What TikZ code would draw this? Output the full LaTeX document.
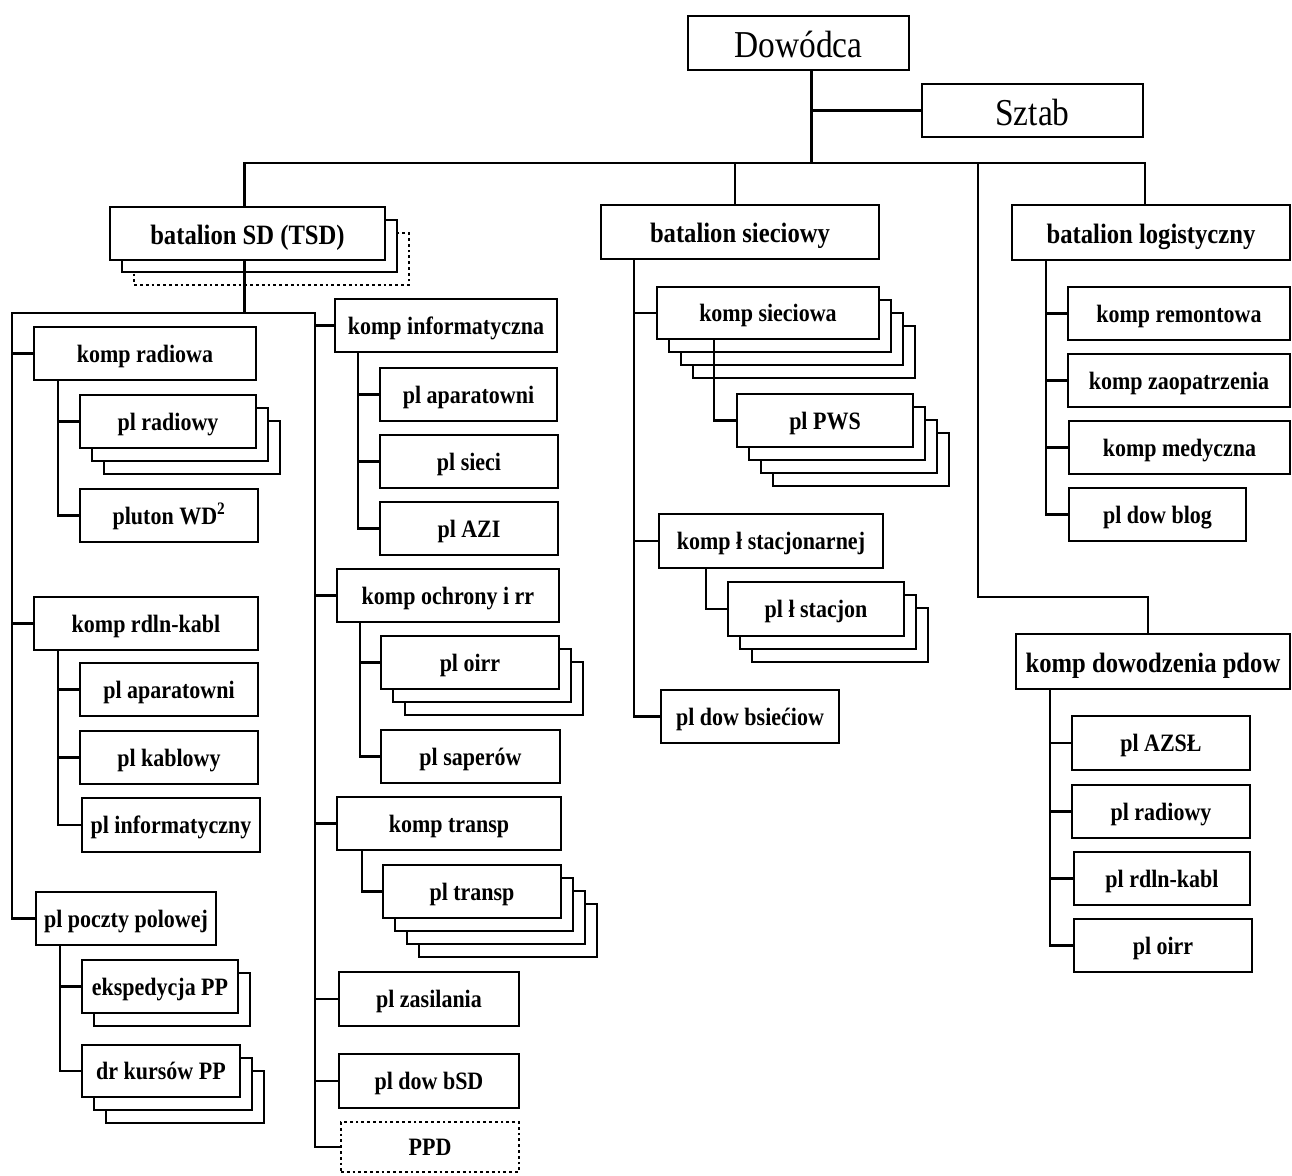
\documentclass[tikz,border=0pt]{standalone}
\usepackage{fontspec}
\setmainfont{Liberation Serif}[FakeStretch=0.88]
\newcommand\lblfont{\bfseries\fontsize{25}{28}\selectfont}
\newcommand\biglblfont{\bfseries\fontsize{28}{31}\selectfont}
\newcommand\toplblfont{\fontsize{38}{42}\selectfont}
\tikzset{
  box/.style={draw, line width=2.8pt, fill=white, inner sep=0pt, outer sep=0pt,
    font=\lblfont, text height=19pt, text depth=2pt, align=center},
  bigbox/.style={font=\biglblfont, text height=21pt, text depth=0pt},
  topbox/.style={font=\toplblfont, text height=29pt, text depth=0pt},
  dotbox/.style={dash pattern=on 2.8pt off 3pt},
  shbox/.style={draw, line width=2.8pt, fill=white},
  ln/.style={draw, line width=2.6pt, line cap=rect},
}
% box: [style] name x1 y1 x2 y2 text
\newcommand\ob[7][]{\node[box,#1,anchor=north west,minimum width={#5-#3},minimum height={#6-#4}] (#2) at (#3,#4) {#7};}
% shadows: x1 y1 x2 y2 count
\newcommand\shd[5]{\foreach \k in {#5,...,1}{\draw[shbox] ({#1+12*\k},{#2+13*\k}) rectangle ({#3+12*\k},{#4+13*\k});}}
\begin{document}
\begin{tikzpicture}[x=1pt,y=-1pt]
\useasboundingbox[fill=white] (0,0) rectangle (1292,1175);
% top
\ob[topbox]{dow}{688}{16}{909}{70}{Dowódca}
\ob[topbox]{szt}{922}{84}{1143}{137}{Sztab}
% battalions
\draw[shbox,dotbox] (134,233) rectangle (409,285);
\draw[shbox] (122,220) rectangle (397,272);
\ob[bigbox]{bsd}{110}{207}{385}{260}{batalion SD (TSD)}
\ob[bigbox]{bsc}{601}{205}{879}{259}{batalion sieciowy}
\ob[bigbox]{blg}{1012}{205}{1290}{260}{batalion logistyczny}
% left column
\ob{kr}{34}{327}{256}{380}{komp radiowa}
\shd{80}{395}{256}{448}{2}
\ob{plr}{80}{395}{256}{448}{pl radiowy}
\ob{wd}{80}{489}{258}{542}{pluton WD\textsuperscript{2}}
\ob{krk}{34}{597}{258}{650}{komp rdln-kabl}
\ob{pap1}{80}{663}{258}{716}{pl aparatowni}
\ob{pkab}{80}{731}{258}{784}{pl kablowy}
\ob{pinf}{82}{798}{260}{852}{pl informatyczny}
\ob{ppp}{36}{892}{216}{945}{pl poczty polowej}
\shd{82}{960}{238}{1013}{1}
\ob{eks}{82}{960}{238}{1013}{ekspedycja PP}
\shd{82}{1045}{240}{1097}{2}
\ob{drk}{82}{1045}{240}{1097}{dr kursów PP}
% middle column
\ob{kinf}{335}{299}{557}{352}{komp informatyczna}
\ob{pap2}{380}{368}{557}{421}{pl aparatowni}
\ob{psie}{380}{435}{558}{488}{pl sieci}
\ob{pazi}{380}{502}{558}{555}{pl AZI}
\ob{koch}{337}{569}{559}{622}{komp ochrony i rr}
\shd{381}{636}{559}{689}{2}
\ob{poirr}{381}{636}{559}{689}{pl oirr}
\ob{psap}{381}{730}{560}{783}{pl saperów}
\ob{ktr}{337}{797}{561}{850}{komp transp}
\shd{383}{865}{561}{918}{3}
\ob{ptr}{383}{865}{561}{918}{pl transp}
\ob{pzas}{339}{972}{519}{1026}{pl zasilania}
\ob{pdbsd}{339}{1054}{519}{1108}{pl dow bSD}
\ob[dotbox]{ppd}{341}{1122}{519}{1172}{PPD}
% network battalion
\shd{657}{287}{879}{339}{3}
\ob{ksie}{657}{287}{879}{339}{komp sieciowa}
\shd{737}{394}{913}{447}{3}
\ob{pws}{737}{394}{913}{447}{pl PWS}
\ob{kls}{659}{514}{883}{568}{komp ł stacjonarnej}
\shd{728}{582}{904}{636}{2}
\ob{pls}{728}{582}{904}{636}{pl ł stacjon}
\ob{pdbs}{661}{690}{839}{743}{pl dow bsiećiow}
% logistics battalion
\ob{krem}{1068}{287}{1290}{340}{komp remontowa}
\ob{kzao}{1068}{354}{1290}{407}{komp zaopatrzenia}
\ob{kmed}{1069}{421}{1290}{474}{komp medyczna}
\ob{pdbl}{1069}{488}{1246}{541}{pl dow blog}
\ob[bigbox]{kdp}{1016}{634}{1290}{689}{komp dowodzenia pdow}
\ob{pazs}{1072}{716}{1250}{770}{pl AZSŁ}
\ob{prad}{1072}{785}{1250}{838}{pl radiowy}
\ob{prk}{1074}{852}{1250}{905}{pl rdln-kabl}
\ob{poi}{1074}{919}{1252}{972}{pl oirr}
% connectors
\coordinate (busY) at (0,163);
\coordinate (dowOut) at ([xshift=13pt]dow.south);
\coordinate (bsdIn) at ([xshift=-3pt]bsd.north);
\coordinate (bsdOut) at ([xshift=-3pt]bsd.south);
\coordinate (bscIn) at ([xshift=-5pt]bsc.north);
\coordinate (blgIn) at ([xshift=-6pt]blg.north);
\coordinate (kdpIn) at ([xshift=-5pt]kdp.north);
\draw[ln] (dowOut) -- (dowOut |- busY);
\draw[ln] (dowOut |- szt.west) -- (szt.west);
\draw[ln] (bsdIn |- busY) -- (blgIn |- busY);
\foreach \n in {bsdIn,bscIn,blgIn} \draw[ln] (\n |- busY) -- (\n);
\coordinate (kdTop) at (978,163);
\coordinate (kdTurn) at (978,597);
\draw[ln] (kdTop) -- (kdTurn) -| (kdpIn);
\coordinate (bL) at (12,313);
\coordinate (bR) at (315,313);
\draw[ln] (bsdOut) -- (bsdOut |- bL);
\draw[ln] (bL) -- (bR);
\foreach \n in {kr,krk,ppp} \draw[ln] (bL) |- (\n.west);
\foreach \n in {kinf,koch,ktr,pzas,pdbsd,ppd} \draw[ln] (bR) |- (\n.west);
\foreach \n in {plr,wd} \draw[ln] ([xshift=24pt]kr.south west) |- (\n.west);
\foreach \n in {pap1,pkab,pinf} \draw[ln] ([xshift=24pt]krk.south west) |- (\n.west);
\foreach \n in {eks,drk} \draw[ln] ([xshift=24pt]ppp.south west) |- (\n.west);
\foreach \n in {pap2,psie,pazi} \draw[ln] ([xshift=23pt]kinf.south west) |- (\n.west);
\foreach \n in {poirr,psap} \draw[ln] ([xshift=23pt]koch.south west) |- (\n.west);
\draw[ln] ([xshift=25pt]ktr.south west) |- (ptr.west);
\foreach \n in {ksie,kls,pdbs} \draw[ln] ([xshift=33pt]bsc.south west) |- (\n.west);
\draw[ln] ([xshift=57pt]ksie.south west) |- (pws.west);
\draw[ln] ([xshift=47pt]kls.south west) |- (pls.west);
\foreach \n in {krem,kzao,kmed,pdbl} \draw[ln] ([xshift=34pt]blg.south west) |- (\n.west);
\foreach \n in {pazs,prad,prk,poi} \draw[ln] ([xshift=34pt]kdp.south west) |- (\n.west);
\end{tikzpicture}
\end{document}
